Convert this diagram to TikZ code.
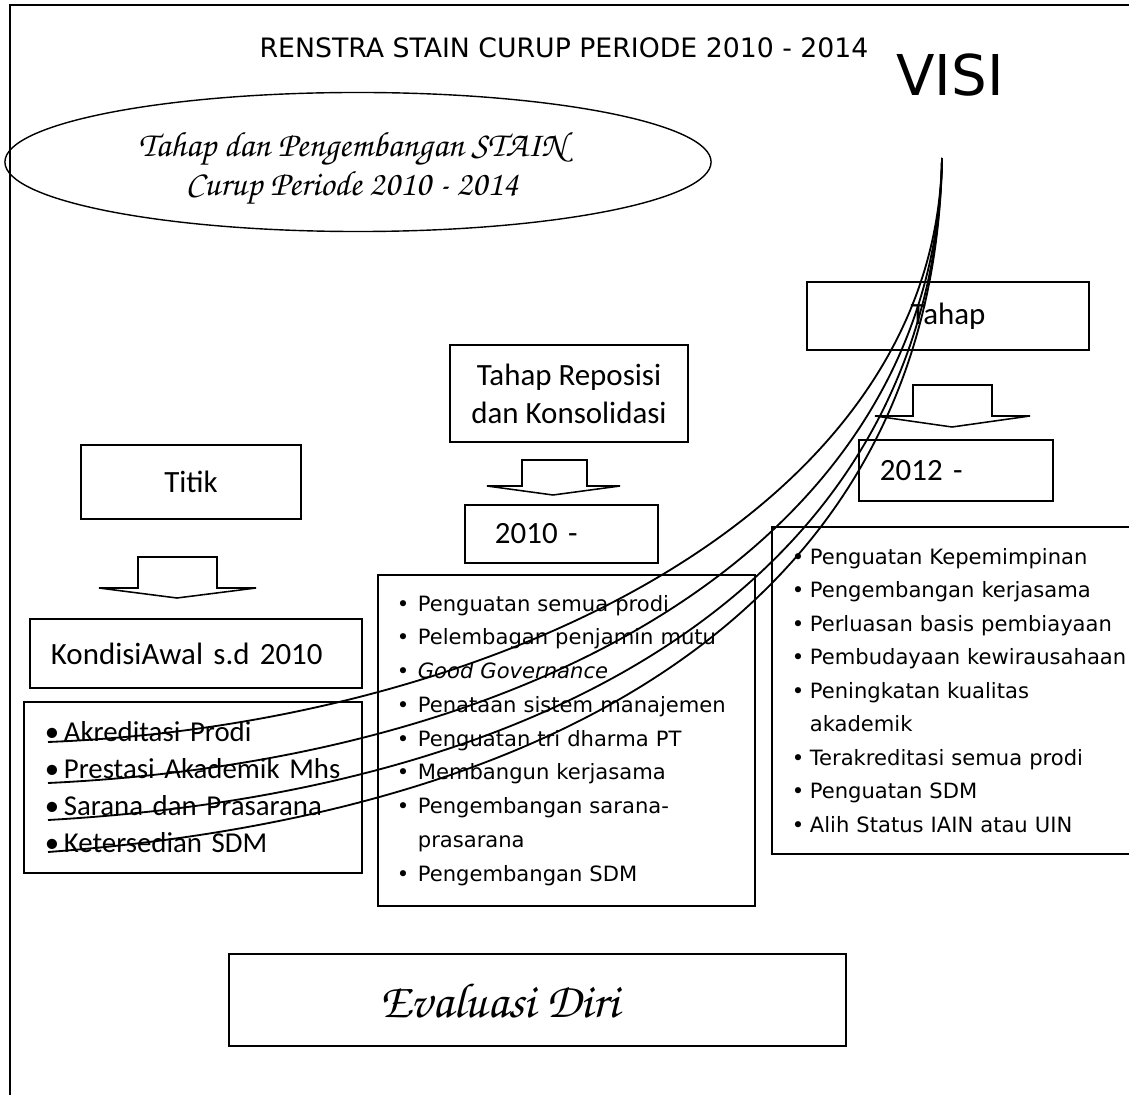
\documentclass[tikz,border=0pt]{standalone}
\usepackage{fontspec}
\setmainfont{Carlito}
\newfontfamily\comicf{DejaVu Sans}
\newfontfamily\calibf{Carlito}
\usetikzlibrary{shapes.geometric}
\newcommand{\chancery}{\usefont{OT1}{pzc}{mb}{it}}
\newlength{\bulw}
\newcommand{\itm}[1]{\makebox[\bulw][l]{\textbullet}\mbox{#1}}

\tikzset{
  frame/.style={line width=1.2pt},
  boxnode/.style={draw, line width=1.2pt},
  listbox/.style={draw, line width=1.2pt, align=left, anchor=north west, inner ysep=0pt},
  visiline/.style={line width=1.3pt},
  blkarrow/.style={line width=1.1pt, line join=miter},
}

\begin{document}
\begin{tikzpicture}[x=0.025cm, y=-0.025cm]
\useasboundingbox (0,0) rectangle (1129,1095);
\fill[white] (0,0) rectangle (1129,1095);
% outer frame
\draw[frame] (10,1095) -- (10,5) -- (1135,5);

\node[font=\comicf\fontsize{19}{21}\selectfont] (title) at (564,48) {RENSTRA STAIN CURUP PERIODE 2010 - 2014};
\node[font=\comicf\fontsize{40}{42}\selectfont] (visi) at (950,75) {VISI};

\node[draw, ellipse, line width=1pt, minimum width=17.65cm, minimum height=3.475cm] (stainovl) at (358,162) {};
\node[align=center, font=\chancery\fontsize{25}{27.5}\selectfont] (staintxt) at (352,169) {Tahap dan Pengembangan STAIN\\Curup Periode 2010 - 2014};

% kolom kanan
\node[boxnode, minimum width=7.05cm, minimum height=1.7cm, font=\calibf\fontsize{22}{26}\selectfont] (tahapbox) at (948,316) {Tahap};
\draw[blkarrow] (875,416) -- (913,416) -- (913,385) -- (992,385) -- (992,416) -- (1030,416) -- (952,427) -- cycle;
\node[boxnode, minimum height=1.525cm, inner xsep=0.525cm, text width=3.8cm, align=left,
  font=\calibf\fontsize{22}{26}\selectfont] (yr2012) at (956,470.5) {2012 -};
\node[listbox, minimum height=8.175cm, inner xsep=0.5cm, text width=8.225cm,
  font=\comicf\fontsize{15}{23.8}\selectfont] (rightlist) at (771,526) {\setlength{\bulw}{0.45cm}%
  \itm{Penguatan Kepemimpinan}\\
  \itm{Pengembangan kerjasama}\\
  \itm{Perluasan basis pembiayaan}\\
  \itm{Pembudayaan kewirausahaan}\\
  \itm{Peningkatan kualitas}\\
  \hspace*{\bulw}akademik\\
  \itm{Terakreditasi semua prodi}\\
  \itm{Penguatan SDM}\\
  \itm{Alih Status IAIN atau UIN}};

% kolom tengah
\node[boxnode, minimum width=5.95cm, minimum height=2.425cm, align=center,
  font=\calibf\fontsize{22}{27}\selectfont] (reposisi) at (569,393.5) {Tahap Reposisi\\dan Konsolidasi};
\draw[blkarrow] (487,486) -- (522,486) -- (522,460) -- (587,460) -- (587,486) -- (620,486) -- (553,495) -- cycle;
\node[boxnode, minimum height=1.45cm, inner xsep=0.75cm, text width=3.325cm, align=left,
  font=\calibf\fontsize{22}{26}\selectfont] (yr2010) at (561.5,534) {2010 -};
\node[listbox, minimum height=8.275cm, inner xsep=0.475cm, text width=8.475cm,
  font=\comicf\fontsize{15}{24}\selectfont] (midlist) at (377,574) {\setlength{\bulw}{0.525cm}%
  \itm{Penguatan semua prodi}\\
  \itm{Pelembagan penjamin mutu}\\
  \itm{\itshape Good Governance}\\
  \itm{Penataan sistem manajemen}\\
  \itm{Penguatan tri dharma PT}\\
  \itm{Membangun kerjasama}\\
  \itm{Pengembangan sarana-}\\
  \hspace*{\bulw}prasarana\\
  \itm{Pengembangan SDM}};

% kolom kiri
\node[boxnode, minimum width=5.5cm, minimum height=1.85cm, font=\calibf\fontsize{22}{26}\selectfont] (titik) at (191,482) {Titik};
\draw[blkarrow] (99,588) -- (138,588) -- (138,557) -- (217,557) -- (217,588) -- (256,588) -- (177,598) -- cycle;
\node[boxnode, minimum height=1.725cm, inner xsep=0.525cm, text width=7.25cm, align=left,
  font=\calibf\fontsize{22}{26}\selectfont] (kondisi) at (196,653.5) {KondisiAwal s.d 2010};
\node[listbox, minimum height=4.275cm, inner xsep=0.525cm, text width=7.4cm,
  font=\calibf\fontsize{20.5}{26.3}\selectfont] (leftlist) at (23,701) {\setlength{\bulw}{0.475cm}%
  \itm{Akreditasi Prodi}\\
  \itm{Prestasi Akademik Mhs}\\
  \itm{Sarana dan Prasarana}\\
  \itm{Ketersedian SDM}};

% evaluasi
\node[boxnode, minimum width=15.425cm, minimum height=2.3cm] (evalbox) at (537.5,1000) {};
\node[font=\chancery\fontsize{35}{40}\selectfont] (evaltxt) at (500,1000) {Evaluasi Diri};

% garis dari visi
\coordinate (vstart) at (942,158);
\coordinate (k1) at (48,742);
\coordinate (k2) at (48,783);
\coordinate (k3) at (48,820);
\coordinate (k4) at (48,852);
\draw[visiline] (vstart) .. controls (935,520) and (480,725) .. (k1);
\draw[visiline] (vstart) .. controls (935,540) and (540,760) .. (k2);
\draw[visiline] (vstart) .. controls (935,560) and (580,790) .. (k3);
\draw[visiline] (vstart) .. controls (935,570) and (610,810) .. (k4);
\end{tikzpicture}
\end{document}
